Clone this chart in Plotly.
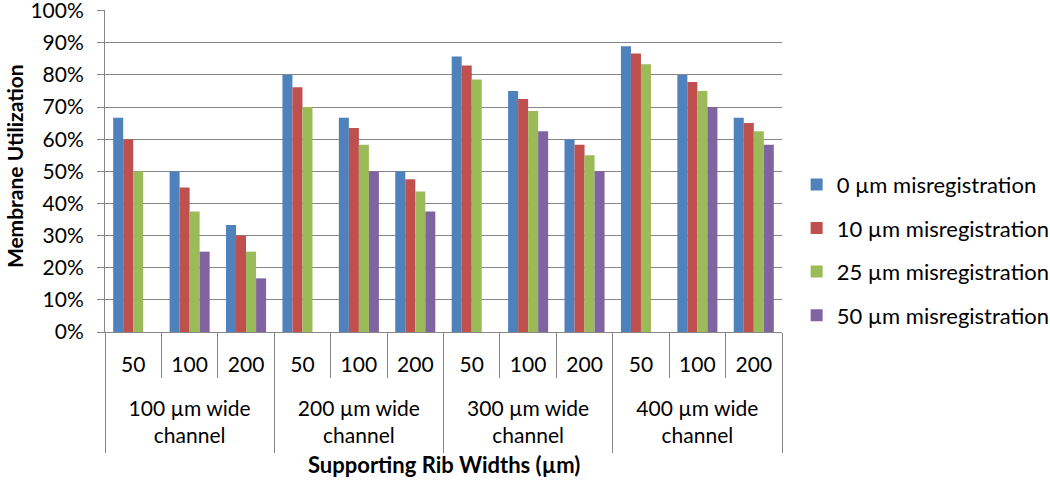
import plotly.graph_objects as go

groups = ["100 µm wide<br>channel", "200 µm wide<br>channel",
          "300 µm wide<br>channel", "400 µm wide<br>channel"]
ribs = ["50", "100", "200"]
series_names = ["0 µm misregistration", "10 µm misregistration",
                "25 µm misregistration", "50 µm misregistration"]
s0 = [66.7, 50.0, 33.3, 80.0, 66.7, 50.0, 85.7, 75.0, 60.0, 88.9, 80.0, 66.7]
s10 = [60.0, 45.0, 30.0, 76.2, 63.5, 47.5, 82.9, 72.5, 58.3, 86.7, 77.8, 65.0]
s25 = [50.0, 37.5, 25.0, 70.0, 58.3, 43.75, 78.6, 68.75, 55.0, 83.3, 75.0, 62.5]
s50 = [None, 25.0, 16.7, None, 50.0, 37.5, None, 62.5, 50.0, None, 70.0, 58.3]
y_ticks = [0, 10, 20, 30, 40, 50, 60, 70, 80, 90, 100]
colors = ["#4F81BD", "#C0504D", "#9BBB59", "#8064A2"]

FONT = "Lato"
GRAY = "#868686"

n = len(groups) * len(ribs)
xpos = list(range(n))
sub_labels = ribs * len(groups)
boundaries = [i - 0.5 for i in range(n + 1)]
group_bounds = [i * len(ribs) - 0.5 for i in range(len(groups) + 1)]
group_centers = [i * len(ribs) + (len(ribs) - 1) / 2 for i in range(len(groups))]
xr = [-0.5, n - 0.5]

fig = go.Figure()
for name, vals, col in zip(series_names, [s0, s10, s25, s50], colors):
    fig.add_bar(x=xpos, y=vals, name=name, marker_color=col,
                marker_line_width=0, legendgroup=name)

for ax in ["x2", "x3", "x4"]:
    fig.add_scatter(x=[None], y=[None], xaxis=ax, yaxis="y",
                    showlegend=False, hoverinfo="skip")

fig.update_layout(
    width=1050, height=484,
    margin=dict(l=105, r=268, t=10, b=152, autoexpand=False),
    paper_bgcolor="white", plot_bgcolor="white",
    barmode="group", bargap=0.29, bargroupgap=0,
    font=dict(family=FONT, size=21, color="black"),
    showlegend=True,
    legend=dict(xref="container", yref="container", x=0.7587, y=0.662,
                xanchor="left", yanchor="top", tracegroupgap=12,
                font=dict(size=22), itemwidth=30),
    xaxis=dict(range=xr, tickvals=xpos, ticktext=sub_labels, ticks="",
               showline=True, linecolor=GRAY, linewidth=1, showgrid=False,
               zeroline=False, ticklabelstandoff=14, automargin=False,
               tickfont=dict(size=21)),
    xaxis2=dict(range=xr, overlaying="x", anchor="y", side="bottom",
                tickvals=boundaries, ticks="outside", ticklen=45,
                tickcolor=GRAY, tickwidth=1, showticklabels=False,
                showgrid=False, showline=False, zeroline=False,
                automargin=False),
    xaxis3=dict(range=xr, overlaying="x", anchor="y", side="bottom",
                tickvals=group_bounds, ticks="outside", ticklen=120,
                tickcolor=GRAY, tickwidth=1, showticklabels=False,
                showgrid=False, showline=False, zeroline=False,
                automargin=False),
    xaxis4=dict(range=xr, overlaying="x", anchor="y", side="bottom",
                tickvals=group_centers, ticktext=groups, ticks="",
                showgrid=False, showline=False, zeroline=False,
                ticklabelstandoff=62, tickfont=dict(size=21),
                automargin=False),
    yaxis=dict(range=[0, 100.2], tickmode="array", tickvals=y_ticks,
               ticktext=[f"{v}%" for v in y_ticks],
               showgrid=True, gridcolor=GRAY, gridwidth=1,
               showline=True, linecolor=GRAY, linewidth=1,
               ticks="outside", ticklen=7, tickcolor=GRAY,
               ticklabelstandoff=9, ticklabeloverflow="allow",
               zeroline=False, tickfont=dict(size=21), automargin=False),
    annotations=[
        dict(text="<b>Supporting Rib Widths (µm)</b>",
             xref="paper", yref="paper", x=0.5, y=-0.413,
             xanchor="center", yanchor="middle", showarrow=False,
             font=dict(size=22)),
        dict(text="<b>Membrane Utilization</b>", textangle=-90,
             xref="paper", yref="paper", x=-0.1345, y=0.515,
             xanchor="center", yanchor="middle", showarrow=False,
             font=dict(size=21)),
    ],
)

fig.write_html("out.html", config={"displayModeBar": False},
               post_script="document.body.style.margin='0px';")
